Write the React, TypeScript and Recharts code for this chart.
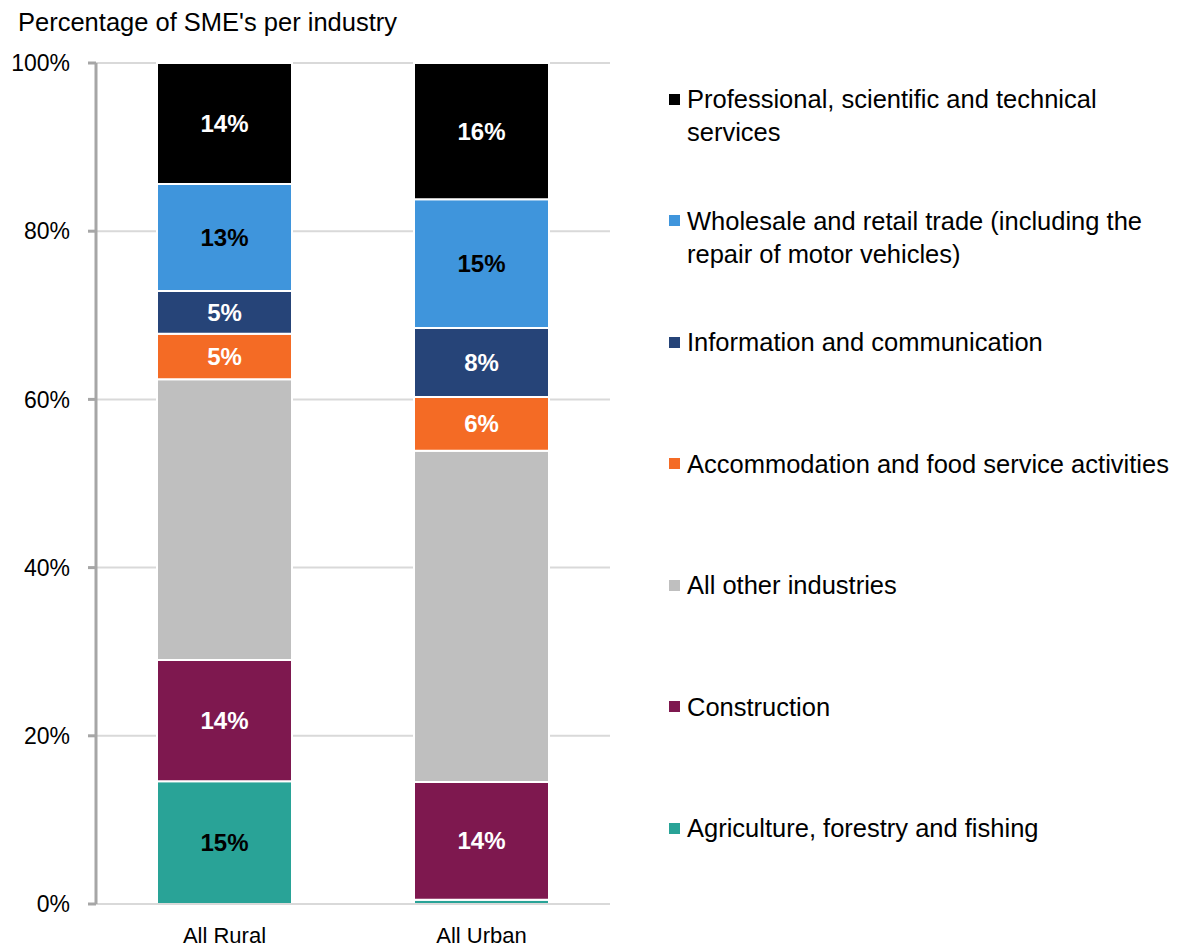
import { BarChart, Bar, XAxis, YAxis, CartesianGrid, LabelList } from 'recharts';

// categories and stacked shares (%), bottom segment first
const areas = ['All Rural', 'All Urban'];
const agriculture = [14.6, 0.5];
const construction = [14.4, 14.0];
const otherIndustries = [33.4, 39.4];
const accommodation = [5.4, 6.4];
const information = [5.1, 8.2];
const wholesale = [12.7, 15.3];
const professional = [14.4, 16.2];
const yTicks = [0, 20, 40, 60, 80, 100];

const series = [
  { key: 'agri', name: 'Agriculture, forestry and fishing', values: agriculture, color: '#29a397', text: '#000', labelled: true },
  { key: 'constr', name: 'Construction', values: construction, color: '#7e184f', text: '#fff', labelled: true },
  { key: 'other', name: 'All other industries', values: otherIndustries, color: '#bfbfbf', text: '#000', labelled: false },
  { key: 'accom', name: 'Accommodation and food service activities', values: accommodation, color: '#f46b25', text: '#fff', labelled: true },
  { key: 'info', name: 'Information and communication', values: information, color: '#264478', text: '#fff', labelled: true },
  { key: 'whole', name: 'Wholesale and retail trade (including the repair of motor vehicles)', values: wholesale, color: '#3f95dc', text: '#000', labelled: true },
  { key: 'prof', name: 'Professional, scientific and technical services', values: professional, color: '#000000', text: '#fff', labelled: true },
];

// legend line breaks as in the original
const legendLines: Record<string, string[]> = {
  prof: ['Professional, scientific and technical', 'services'],
  whole: ['Wholesale and retail trade (including the', 'repair of motor vehicles)'],
};

const data = areas.map((area, i) => {
  const row: Record<string, string | number> = { area };
  series.forEach((s) => { row[s.key] = s.values[i]; });
  return row;
});

const FONT = '"Liberation Sans", Arial, sans-serif';

const makeLabel = (color: string) => (props: any) => {
  const { x, y, width, height, value } = props;
  if (value == null || Number(value) < 2) return null;
  return (
    <text
      x={Number(x) + Number(width) / 2}
      y={Number(y) + Number(height) / 2}
      textAnchor="middle"
      dominantBaseline="central"
      fill={color}
      fontFamily={FONT}
      fontSize={24}
      fontWeight="bold"
    >
      {`${Math.round(Number(value))}%`}
    </text>
  );
};

function ChartLegend() {
  const items = [...series].reverse();
  return (
    <>
      {items.map((s, i) => {
        const top = 83.3 + i * 121.5;
        const lines = legendLines[s.key] ?? [s.name];
        return (
          <div key={s.key} style={{ position: 'absolute', left: 669, top, fontFamily: FONT, fontSize: 25.5, lineHeight: '33px', color: '#000' }}>
            <div style={{ position: 'absolute', left: 0, top: 10.5, width: 11, height: 11, background: s.color }} />
            <div style={{ position: 'absolute', left: 18, top: 0, whiteSpace: 'nowrap' }}>
              {lines.map((l) => <div key={l}>{l}</div>)}
            </div>
          </div>
        );
      })}
    </>
  );
}

export default function App() {
  return (
    <div style={{ position: 'absolute', left: 0, top: 0, width: 1182, height: 950, background: '#fff' }}>
      <div style={{ position: 'absolute', left: 18, top: 10, fontFamily: FONT, fontSize: 25.5, lineHeight: 1, color: '#000', whiteSpace: 'nowrap' }}>
        Percentage of SME's per industry
      </div>
      <BarChart
        width={640}
        height={950}
        data={data}
        margin={{ top: 63, right: 30, left: 0, bottom: 0 }}
        barSize={135}
      >
        <CartesianGrid vertical={false} stroke="#d9d9d9" strokeWidth={2} />
        <XAxis
          dataKey="area"
          height={46}
          axisLine={{ stroke: '#d9d9d9', strokeWidth: 2 }}
          tickLine={false}
          tickSize={0}
          tickMargin={23}
          tick={{ fill: '#000', fontSize: 22, fontFamily: FONT }}
        />
        <YAxis
          width={96}
          domain={[0, 100]}
          ticks={yTicks}
          tickFormatter={(v) => `${v}%`}
          axisLine={{ stroke: '#a6a6a6', strokeWidth: 3 }}
          tickLine={{ stroke: '#a6a6a6', strokeWidth: 3 }}
          tickSize={8}
          tickMargin={18}
          tick={{ fill: '#000', fontSize: 23, fontFamily: FONT }}
        />
        {series.map((s) => (
          <Bar
            key={s.key}
            dataKey={s.key}
            name={s.name}
            stackId="a"
            fill={s.color}
            stroke="#fff"
            strokeWidth={2}
            isAnimationActive={false}
          >
            {s.labelled && <LabelList dataKey={s.key} content={makeLabel(s.text)} />}
          </Bar>
        ))}
      </BarChart>
      <ChartLegend />
    </div>
  );
}
